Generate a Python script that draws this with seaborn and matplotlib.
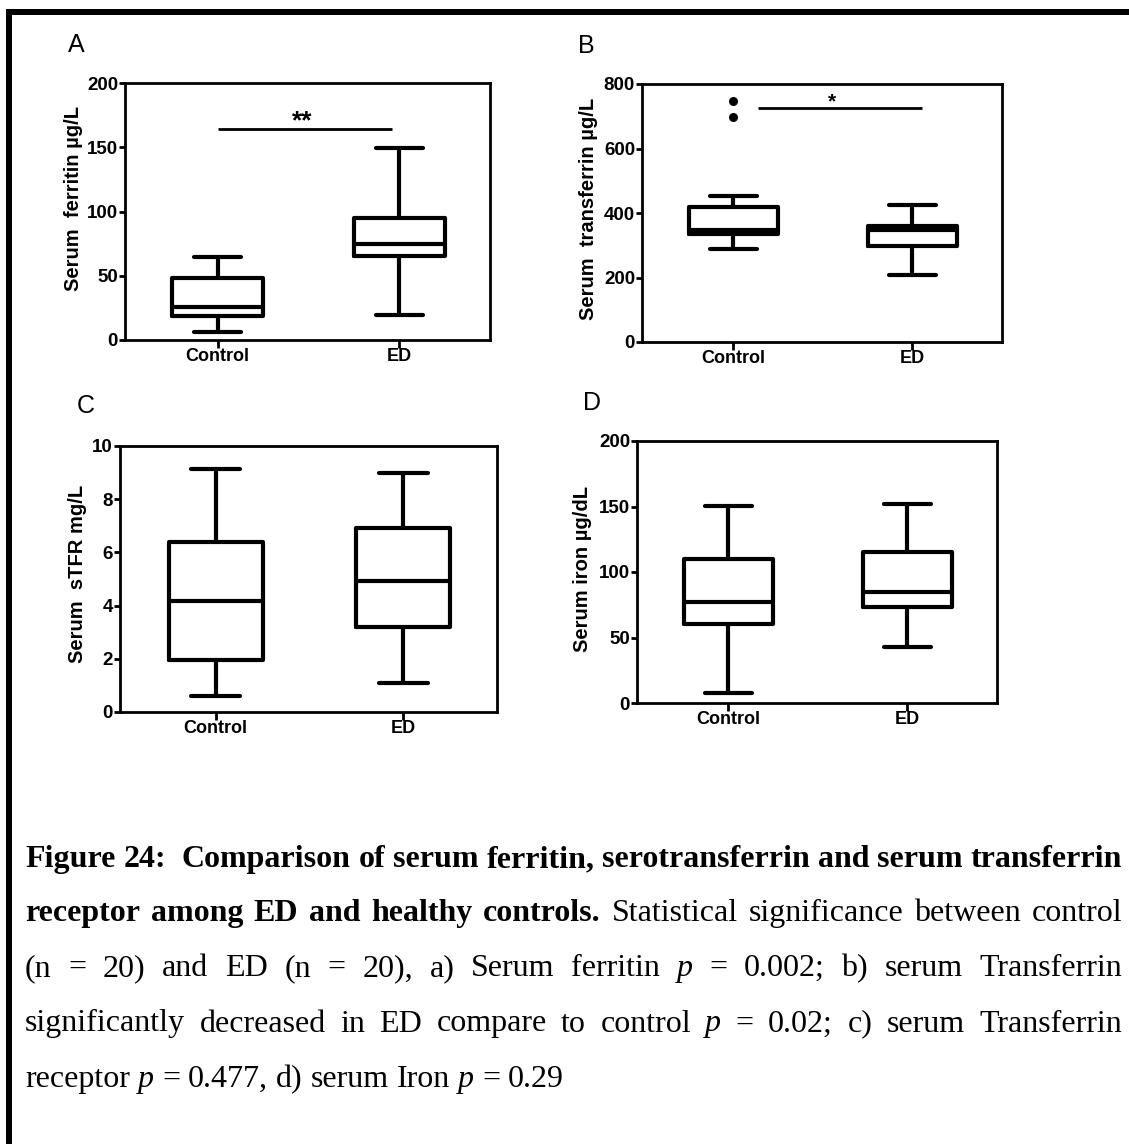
import re
import numpy as np
import pandas as pd
import matplotlib
matplotlib.use("Agg")
import matplotlib.pyplot as plt
from matplotlib.patches import Rectangle
import seaborn as sns

# ---------------- data ----------------
groups = ["Control", "ED"]
# five-number summaries: whisker low, Q1, median, Q3, whisker high
ferritin_control = [6.5, 18.7, 25.9, 48.0, 64.3]
ferritin_ed = [19.5, 65.4, 74.5, 94.7, 149.2]
transferrin_control = [287, 334, 347, 418, 454]
transferrin_ed = [208, 299, 347, 360, 425]
transferrin_control_outliers = [748, 697]
stfr_control = [0.6, 1.95, 4.18, 6.4, 9.12]
stfr_ed = [1.08, 3.21, 4.92, 6.93, 8.97]
iron_control = [7.4, 60.3, 77.3, 109.7, 150.4]
iron_ed = [43, 73, 85, 115.5, 151.7]

ylabels = ["Serum  ferritin µg/L", "Serum  transferrin µg/L",
           "Serum  sTFR mg/L", "Serum iron µg/dL"]
panel_letters = ["A", "B", "C", "D"]
yticks_list = [[0, 50, 100, 150, 200], [0, 200, 400, 600, 800],
               [0, 2, 4, 6, 8, 10], [0, 50, 100, 150, 200]]
ylims = [(0, 200), (0, 800), (0, 10), (0, 200)]

# significance annotations
sig_a_x = [0.0, 0.96]
sig_a_y = 164
sig_a_text = "**"
sig_b_x = [0.14, 1.055]
sig_b_y = 726
sig_b_text = "*"

caption_lines = [
    [("Figure 24:  Comparison of serum ferritin, serotransferrin and serum transferrin", "bold", "normal")],
    [("receptor among ED and healthy controls.", "bold", "normal"),
     (" Statistical significance between control", "normal", "normal")],
    [("(n = 20) and ED (n = 20), a) Serum ferritin ", "normal", "normal"),
     ("p", "normal", "italic"),
     (" = 0.002; b) serum Transferrin", "normal", "normal")],
    [("significantly decreased in ED compare to control ", "normal", "normal"),
     ("p", "normal", "italic"),
     (" = 0.02; c) serum Transferrin", "normal", "normal")],
    [("receptor ", "normal", "normal"), ("p", "normal", "italic"),
     (" = 0.477, d) serum Iron ", "normal", "normal"), ("p", "normal", "italic"),
     (" = 0.29", "normal", "normal")],
]

# ---------------- style ----------------
sns.set_theme(style="ticks")
plt.rcParams["font.family"] = ["Liberation Sans", "DejaVu Sans"]
for k in ["axes.edgecolor", "text.color", "axes.labelcolor", "xtick.color", "ytick.color"]:
    plt.rcParams[k] = "black"

W, H = 1129, 1144
fig = plt.figure(figsize=(W / 100, H / 100), dpi=100)
fig.patch.set_facecolor("white")

axes_px = [(125, 83, 490, 340), (642, 84, 1002, 342),
           (120, 446, 497, 712), (637, 441, 997, 703)]
label_coords = [(-0.142, 0.55), (-0.15, 0.515), (-0.114, 0.519), (-0.15, 0.511)]
letter_px = [(68, 52), (578, 53), (77, 413), (583, 410)]

panel_data = [(ferritin_control, ferritin_ed), (transferrin_control, transferrin_ed),
              (stfr_control, stfr_ed), (iron_control, iron_ed)]

axes = []
for i, ((l, t, r, b), (c, e)) in enumerate(zip(axes_px, panel_data)):
    ax = fig.add_axes([l / W, 1 - b / H, (r - l) / W, (b - t) / H])
    axes.append(ax)
    df = pd.DataFrame({"group": np.repeat(groups, 5), "value": list(c) + list(e)})
    sns.boxplot(data=df, x="group", y="value", order=groups, ax=ax,
                whis=(0, 100), width=0.5, fill=False, color="black",
                linewidth=3, capwidths=0.26, showfliers=False)
    if i == 1:
        sns.stripplot(x=["Control"] * len(transferrin_control_outliers),
                      y=transferrin_control_outliers, order=groups,
                      jitter=False, color="black", size=6.5, ax=ax)
    ax.set_xlim(-0.51, 1.5)
    ax.set_ylim(*ylims[i])
    ax.set_yticks(yticks_list[i])
    ax.set_xticks([0, 1])
    ax.set_xticklabels(groups)
    ax.set_xlabel("")
    ax.set_ylabel(ylabels[i], fontsize=14.5, fontweight="bold", color="black")
    ax.yaxis.label.set_va("center")
    ax.yaxis.set_label_coords(*label_coords[i])
    for s in ax.spines.values():
        s.set_visible(True)
        s.set_linewidth(2)
        s.set_color("black")
    ax.tick_params(axis="y", direction="out", length=4.5, width=2, pad=0.5,
                   labelsize=13.5, colors="black")
    ax.tick_params(axis="x", direction="out", length=5.5, width=2, pad=0.5,
                   labelsize=13, colors="black")
    for lbl in ax.get_xticklabels() + ax.get_yticklabels():
        lbl.set_fontweight("bold")
    ax.set_facecolor("white")
    ax.grid(False)
    lx, ly = letter_px[i]
    fig.text(lx / W, 1 - ly / H, panel_letters[i], fontsize=18,
             ha="left", va="baseline", color="black")

# significance bars
axes[0].plot(sig_a_x, [sig_a_y, sig_a_y], color="black", lw=2, solid_capstyle="butt")
axes[0].text(0.467, 164.5, sig_a_text, ha="center", va="baseline",
             fontsize=19, fontweight="bold", color="black")
axes[1].plot(sig_b_x, [sig_b_y, sig_b_y], color="black", lw=2, solid_capstyle="butt")
axes[1].text(0.553, 729, sig_b_text, ha="center", va="baseline",
             fontsize=15, fontweight="bold", color="black")

# border
fig.add_artist(Rectangle((6 / W, 1 - 15 / H), (W - 6) / W, 6 / H,
                         transform=fig.transFigure, color="black", lw=0))
fig.add_artist(Rectangle((6 / W, 0), 6 / W, 1 - 9 / H,
                         transform=fig.transFigure, color="black", lw=0))

# caption (justified)
CAP_FS = 23
X0, X1 = 25, 1122
baselines = [867, 921, 976, 1031.5, 1087]
renderer = fig.canvas.get_renderer()


def tokens_from(segments):
    toks = []
    pending = 0
    for txt, wt, st in segments:
        for m in re.finditer(r"( *)(\S+)", txt):
            n = len(m.group(1)) + pending
            pending = 0
            toks.append((m.group(2), wt, st, n))
        pending += len(txt) - len(txt.rstrip(" "))
    return toks


probe1 = fig.text(0, 0, "a a", fontsize=CAP_FS, family="Liberation Serif")
probe2 = fig.text(0, 0, "aa", fontsize=CAP_FS, family="Liberation Serif")
space_w = probe1.get_window_extent(renderer).width - probe2.get_window_extent(renderer).width
probe1.remove()
probe2.remove()

for li, segs in enumerate(caption_lines):
    toks = tokens_from(segs)
    arts = []
    for word, wt, st, n in toks:
        a = fig.text(0, 1 - baselines[li] / H, word, fontsize=CAP_FS,
                     family="Liberation Serif", fontweight=wt, fontstyle=st,
                     ha="left", va="baseline", color="black")
        arts.append(a)
    widths = [a.get_window_extent(renderer).width for a in arts]
    nsp = [0] + [tk[3] for tk in toks[1:]]
    natural = [k * space_w for k in nsp]
    justify = li < len(caption_lines) - 1
    extra = 0.0
    if justify and len(toks) > 1:
        extra = (X1 - X0 - sum(widths) - sum(natural)) / (len(toks) - 1)
    x = X0
    for j, (a, wd) in enumerate(zip(arts, widths)):
        if j > 0:
            x += natural[j] + extra
        a.set_x(x / W)
        x += wd

fig.savefig("out.png", dpi=100, facecolor="white")
